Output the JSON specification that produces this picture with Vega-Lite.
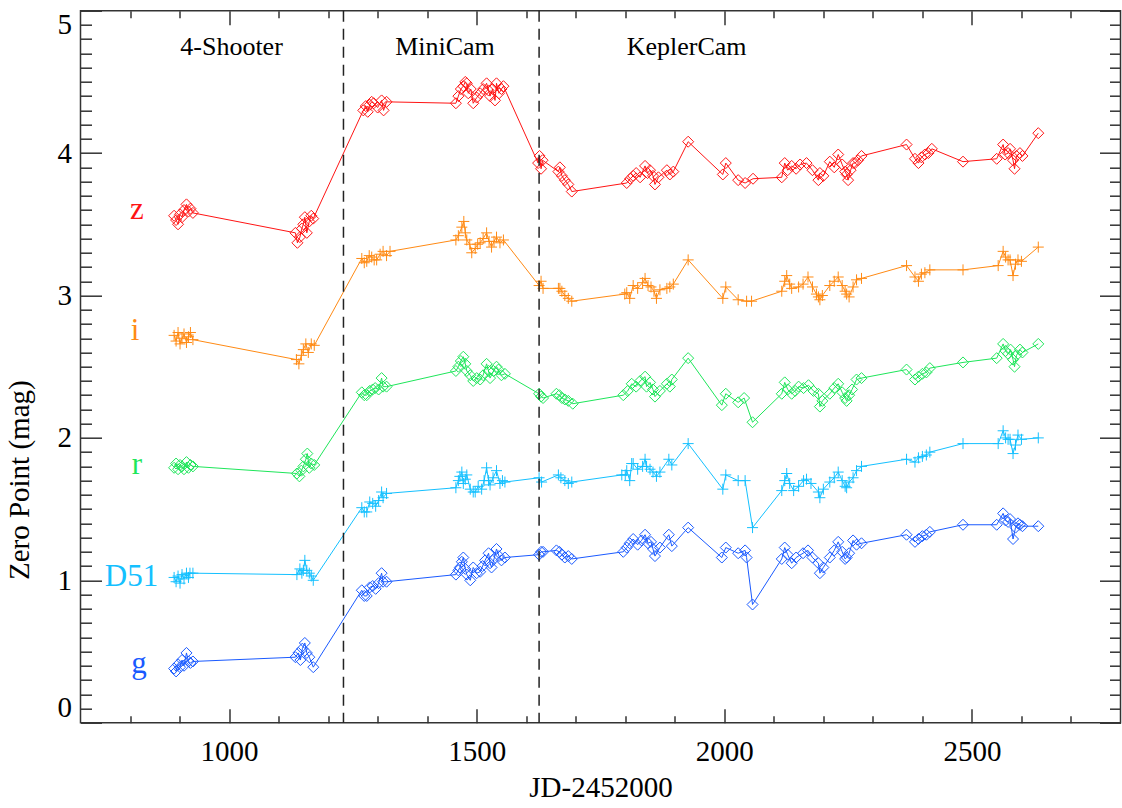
{
  "$schema": "https://vega.github.io/schema/vega-lite/v6.json",
  "width": 1040,
  "height": 712,
  "autosize": {"type": "none"},
  "padding": {"left": 80.5, "top": 10.7, "right": 1.5, "bottom": 85.3},
  "background": "white",
  "config": {
    "view": {"stroke": "#333333", "strokeWidth": 1.5},
    "axis": {
      "grid": false,
      "domain": false,
      "labelFont": "Liberation Serif",
      "labelFontSize": 29,
      "labelColor": "#000000",
      "titleFont": "Liberation Serif",
      "titleFontSize": 29,
      "titleFontWeight": "normal",
      "titleColor": "#000000",
      "tickColor": "#333333",
      "tickWidth": 1.5
    }
  },
  "datasets": {
    "pts": [
      {"s":"z","x":889,"y":3.56},{"s":"z","x":893,"y":3.53},{"s":"z","x":897,"y":3.50},{"s":"z","x":901,"y":3.57},{"s":"z","x":905,"y":3.55},{"s":"z","x":909,"y":3.60},{"s":"z","x":914,"y":3.64},{"s":"z","x":918,"y":3.59},{"s":"z","x":922,"y":3.61},{"s":"z","x":927,"y":3.58},
      {"s":"z","x":1134,"y":3.44},{"s":"z","x":1138,"y":3.37},{"s":"z","x":1143,"y":3.41},{"s":"z","x":1147,"y":3.47},{"s":"z","x":1150,"y":3.50},{"s":"z","x":1153,"y":3.55},{"s":"z","x":1157,"y":3.44},{"s":"z","x":1162,"y":3.52},{"s":"z","x":1166,"y":3.56},{"s":"z","x":1170,"y":3.54},
      {"s":"z","x":1271,"y":4.30},{"s":"z","x":1276,"y":4.33},{"s":"z","x":1280,"y":4.29},{"s":"z","x":1284,"y":4.34},{"s":"z","x":1288,"y":4.36},{"s":"z","x":1292,"y":4.35},{"s":"z","x":1300,"y":4.32},{"s":"z","x":1308,"y":4.37},{"s":"z","x":1312,"y":4.30},{"s":"z","x":1318,"y":4.36},
      {"s":"z","x":1458,"y":4.35},{"s":"z","x":1463,"y":4.40},{"s":"z","x":1468,"y":4.45},{"s":"z","x":1473,"y":4.47},{"s":"z","x":1477,"y":4.50},{"s":"z","x":1480,"y":4.49},{"s":"z","x":1483,"y":4.42},{"s":"z","x":1488,"y":4.45},{"s":"z","x":1493,"y":4.35},{"s":"z","x":1500,"y":4.39},{"s":"z","x":1507,"y":4.42},{"s":"z","x":1513,"y":4.45},{"s":"z","x":1520,"y":4.49},{"s":"z","x":1524,"y":4.44},{"s":"z","x":1527,"y":4.40},{"s":"z","x":1532,"y":4.45},{"s":"z","x":1537,"y":4.37},{"s":"z","x":1540,"y":4.49},{"s":"z","x":1545,"y":4.42},{"s":"z","x":1550,"y":4.45},{"s":"z","x":1554,"y":4.47},
      {"s":"z","x":1624,"y":3.93},{"s":"z","x":1627,"y":3.98},{"s":"z","x":1630,"y":3.89},{"s":"z","x":1633,"y":3.95},{"s":"z","x":1665,"y":3.87},{"s":"z","x":1668,"y":3.90},{"s":"z","x":1672,"y":3.84},{"s":"z","x":1678,"y":3.81},{"s":"z","x":1685,"y":3.78},{"s":"z","x":1692,"y":3.73},
      {"s":"z","x":1803,"y":3.79},{"s":"z","x":1810,"y":3.82},{"s":"z","x":1816,"y":3.84},{"s":"z","x":1822,"y":3.86},{"s":"z","x":1830,"y":3.83},{"s":"z","x":1840,"y":3.91},{"s":"z","x":1845,"y":3.86},{"s":"z","x":1850,"y":3.88},{"s":"z","x":1856,"y":3.84},{"s":"z","x":1860,"y":3.78},{"s":"z","x":1867,"y":3.83},{"s":"z","x":1884,"y":3.88},{"s":"z","x":1890,"y":3.85},{"s":"z","x":1897,"y":3.87},{"s":"z","x":1927,"y":4.08},
      {"s":"z","x":1997,"y":3.85},{"s":"z","x":2003,"y":3.93},{"s":"z","x":2028,"y":3.81},{"s":"z","x":2042,"y":3.79},{"s":"z","x":2058,"y":3.82},
      {"s":"z","x":2116,"y":3.83},{"s":"z","x":2122,"y":3.93},{"s":"z","x":2128,"y":3.88},{"s":"z","x":2136,"y":3.91},{"s":"z","x":2145,"y":3.89},{"s":"z","x":2153,"y":3.92},{"s":"z","x":2166,"y":3.93},{"s":"z","x":2178,"y":3.88},{"s":"z","x":2190,"y":3.81},{"s":"z","x":2193,"y":3.86},{"s":"z","x":2200,"y":3.84},{"s":"z","x":2213,"y":3.94},{"s":"z","x":2222,"y":3.90},{"s":"z","x":2230,"y":3.99},{"s":"z","x":2238,"y":3.92},{"s":"z","x":2244,"y":3.87},{"s":"z","x":2247,"y":3.85},{"s":"z","x":2250,"y":3.81},{"s":"z","x":2255,"y":3.88},{"s":"z","x":2260,"y":3.93},{"s":"z","x":2264,"y":3.93},{"s":"z","x":2270,"y":3.95},{"s":"z","x":2277,"y":3.98},
      {"s":"z","x":2368,"y":4.06},{"s":"z","x":2385,"y":3.96},{"s":"z","x":2392,"y":3.93},{"s":"z","x":2398,"y":3.97},{"s":"z","x":2405,"y":3.99},{"s":"z","x":2412,"y":4.00},{"s":"z","x":2419,"y":4.03},{"s":"z","x":2482,"y":3.94},
      {"s":"z","x":2550,"y":3.96},{"s":"z","x":2563,"y":4.06},{"s":"z","x":2567,"y":3.99},{"s":"z","x":2573,"y":4.00},{"s":"z","x":2577,"y":4.03},{"s":"z","x":2583,"y":3.95},{"s":"z","x":2586,"y":3.89},{"s":"z","x":2590,"y":3.98},{"s":"z","x":2597,"y":4.00},{"s":"z","x":2602,"y":3.98},{"s":"z","x":2634,"y":4.14},

      {"s":"i","x":889,"y":2.72},{"s":"i","x":893,"y":2.68},{"s":"i","x":897,"y":2.74},{"s":"i","x":901,"y":2.66},{"s":"i","x":905,"y":2.70},{"s":"i","x":909,"y":2.73},{"s":"i","x":914,"y":2.67},{"s":"i","x":918,"y":2.71},{"s":"i","x":922,"y":2.74},{"s":"i","x":927,"y":2.69},
      {"s":"i","x":1136,"y":2.55},{"s":"i","x":1141,"y":2.52},{"s":"i","x":1146,"y":2.58},{"s":"i","x":1150,"y":2.62},{"s":"i","x":1155,"y":2.66},{"s":"i","x":1160,"y":2.60},{"s":"i","x":1166,"y":2.66},{"s":"i","x":1172,"y":2.65},
      {"s":"i","x":1268,"y":3.26},{"s":"i","x":1273,"y":3.23},{"s":"i","x":1278,"y":3.24},{"s":"i","x":1283,"y":3.28},{"s":"i","x":1288,"y":3.27},{"s":"i","x":1293,"y":3.25},{"s":"i","x":1298,"y":3.25},{"s":"i","x":1305,"y":3.29},{"s":"i","x":1311,"y":3.31},{"s":"i","x":1318,"y":3.28},{"s":"i","x":1325,"y":3.31},
      {"s":"i","x":1458,"y":3.39},{"s":"i","x":1463,"y":3.42},{"s":"i","x":1470,"y":3.48},{"s":"i","x":1474,"y":3.52},{"s":"i","x":1477,"y":3.44},{"s":"i","x":1480,"y":3.39},{"s":"i","x":1486,"y":3.36},{"s":"i","x":1490,"y":3.30},{"s":"i","x":1497,"y":3.33},{"s":"i","x":1502,"y":3.36},{"s":"i","x":1507,"y":3.37},{"s":"i","x":1513,"y":3.40},{"s":"i","x":1520,"y":3.44},{"s":"i","x":1525,"y":3.38},{"s":"i","x":1530,"y":3.34},{"s":"i","x":1535,"y":3.38},{"s":"i","x":1540,"y":3.41},{"s":"i","x":1547,"y":3.37},{"s":"i","x":1554,"y":3.39},
      {"s":"i","x":1626,"y":3.07},{"s":"i","x":1630,"y":3.10},{"s":"i","x":1634,"y":3.05},{"s":"i","x":1665,"y":3.05},{"s":"i","x":1668,"y":3.05},{"s":"i","x":1672,"y":3.03},{"s":"i","x":1678,"y":3.00},{"s":"i","x":1685,"y":2.98},{"s":"i","x":1692,"y":2.96},
      {"s":"i","x":1799,"y":3.01},{"s":"i","x":1803,"y":3.02},{"s":"i","x":1809,"y":2.98},{"s":"i","x":1816,"y":3.07},{"s":"i","x":1825,"y":3.05},{"s":"i","x":1835,"y":3.09},{"s":"i","x":1840,"y":3.12},{"s":"i","x":1846,"y":3.07},{"s":"i","x":1852,"y":3.06},{"s":"i","x":1858,"y":3.03},{"s":"i","x":1863,"y":2.98},{"s":"i","x":1870,"y":3.04},{"s":"i","x":1884,"y":3.05},{"s":"i","x":1890,"y":3.06},{"s":"i","x":1897,"y":3.08},{"s":"i","x":1927,"y":3.25},
      {"s":"i","x":1997,"y":2.98},{"s":"i","x":2003,"y":3.06},{"s":"i","x":2028,"y":2.97},{"s":"i","x":2045,"y":2.96},{"s":"i","x":2055,"y":2.96},
      {"s":"i","x":2116,"y":3.03},{"s":"i","x":2122,"y":3.10},{"s":"i","x":2126,"y":3.14},{"s":"i","x":2132,"y":3.08},{"s":"i","x":2136,"y":3.05},{"s":"i","x":2150,"y":3.06},{"s":"i","x":2159,"y":3.08},{"s":"i","x":2169,"y":3.13},{"s":"i","x":2178,"y":3.06},{"s":"i","x":2186,"y":3.01},{"s":"i","x":2190,"y":2.99},{"s":"i","x":2193,"y":2.97},{"s":"i","x":2198,"y":3.00},{"s":"i","x":2213,"y":3.07},{"s":"i","x":2222,"y":3.10},{"s":"i","x":2230,"y":3.13},{"s":"i","x":2238,"y":3.07},{"s":"i","x":2244,"y":3.03},{"s":"i","x":2247,"y":3.01},{"s":"i","x":2252,"y":2.99},{"s":"i","x":2260,"y":3.06},{"s":"i","x":2267,"y":3.11},{"s":"i","x":2277,"y":3.12},
      {"s":"i","x":2368,"y":3.21},{"s":"i","x":2385,"y":3.13},{"s":"i","x":2392,"y":3.10},{"s":"i","x":2398,"y":3.15},{"s":"i","x":2405,"y":3.16},{"s":"i","x":2415,"y":3.18},{"s":"i","x":2482,"y":3.18},
      {"s":"i","x":2553,"y":3.21},{"s":"i","x":2563,"y":3.31},{"s":"i","x":2568,"y":3.27},{"s":"i","x":2573,"y":3.25},{"s":"i","x":2577,"y":3.25},{"s":"i","x":2583,"y":3.14},{"s":"i","x":2588,"y":3.22},{"s":"i","x":2593,"y":3.25},{"s":"i","x":2600,"y":3.24},{"s":"i","x":2634,"y":3.34},

      {"s":"r","x":889,"y":1.79},{"s":"r","x":893,"y":1.82},{"s":"r","x":897,"y":1.78},{"s":"r","x":901,"y":1.81},{"s":"r","x":905,"y":1.80},{"s":"r","x":909,"y":1.78},{"s":"r","x":914,"y":1.83},{"s":"r","x":918,"y":1.79},{"s":"r","x":922,"y":1.81},{"s":"r","x":927,"y":1.80},
      {"s":"r","x":1137,"y":1.75},{"s":"r","x":1142,"y":1.73},{"s":"r","x":1146,"y":1.77},{"s":"r","x":1150,"y":1.80},{"s":"r","x":1155,"y":1.85},{"s":"r","x":1158,"y":1.89},{"s":"r","x":1162,"y":1.79},{"s":"r","x":1166,"y":1.82},{"s":"r","x":1172,"y":1.81},
      {"s":"r","x":1268,"y":2.32},{"s":"r","x":1273,"y":2.30},{"s":"r","x":1278,"y":2.30},{"s":"r","x":1284,"y":2.33},{"s":"r","x":1290,"y":2.34},{"s":"r","x":1295,"y":2.35},{"s":"r","x":1302,"y":2.34},{"s":"r","x":1308,"y":2.42},{"s":"r","x":1311,"y":2.36},{"s":"r","x":1318,"y":2.36},
      {"s":"r","x":1458,"y":2.47},{"s":"r","x":1463,"y":2.50},{"s":"r","x":1468,"y":2.54},{"s":"r","x":1473,"y":2.57},{"s":"r","x":1477,"y":2.52},{"s":"r","x":1480,"y":2.47},{"s":"r","x":1487,"y":2.44},{"s":"r","x":1493,"y":2.40},{"s":"r","x":1500,"y":2.42},{"s":"r","x":1507,"y":2.41},{"s":"r","x":1513,"y":2.44},{"s":"r","x":1520,"y":2.52},{"s":"r","x":1524,"y":2.47},{"s":"r","x":1527,"y":2.42},{"s":"r","x":1534,"y":2.47},{"s":"r","x":1540,"y":2.50},{"s":"r","x":1544,"y":2.48},{"s":"r","x":1550,"y":2.44},{"s":"r","x":1557,"y":2.45},
      {"s":"r","x":1626,"y":2.31},{"s":"r","x":1630,"y":2.29},{"s":"r","x":1634,"y":2.28},{"s":"r","x":1661,"y":2.31},{"s":"r","x":1667,"y":2.30},{"s":"r","x":1672,"y":2.28},{"s":"r","x":1678,"y":2.27},{"s":"r","x":1685,"y":2.26},{"s":"r","x":1694,"y":2.24},
      {"s":"r","x":1796,"y":2.30},{"s":"r","x":1805,"y":2.33},{"s":"r","x":1813,"y":2.38},{"s":"r","x":1822,"y":2.36},{"s":"r","x":1830,"y":2.40},{"s":"r","x":1840,"y":2.43},{"s":"r","x":1843,"y":2.36},{"s":"r","x":1850,"y":2.39},{"s":"r","x":1856,"y":2.34},{"s":"r","x":1860,"y":2.29},{"s":"r","x":1870,"y":2.33},{"s":"r","x":1884,"y":2.38},{"s":"r","x":1890,"y":2.36},{"s":"r","x":1894,"y":2.41},{"s":"r","x":1927,"y":2.56},
      {"s":"r","x":1995,"y":2.23},{"s":"r","x":2003,"y":2.31},{"s":"r","x":2028,"y":2.25},{"s":"r","x":2040,"y":2.28},{"s":"r","x":2057,"y":2.11},
      {"s":"r","x":2116,"y":2.31},{"s":"r","x":2122,"y":2.39},{"s":"r","x":2128,"y":2.34},{"s":"r","x":2136,"y":2.31},{"s":"r","x":2143,"y":2.33},{"s":"r","x":2150,"y":2.36},{"s":"r","x":2160,"y":2.35},{"s":"r","x":2170,"y":2.37},{"s":"r","x":2180,"y":2.33},{"s":"r","x":2190,"y":2.31},{"s":"r","x":2193,"y":2.22},{"s":"r","x":2198,"y":2.26},{"s":"r","x":2213,"y":2.31},{"s":"r","x":2222,"y":2.35},{"s":"r","x":2230,"y":2.38},{"s":"r","x":2238,"y":2.32},{"s":"r","x":2244,"y":2.28},{"s":"r","x":2247,"y":2.26},{"s":"r","x":2252,"y":2.30},{"s":"r","x":2258,"y":2.34},{"s":"r","x":2267,"y":2.41},{"s":"r","x":2277,"y":2.42},
      {"s":"r","x":2368,"y":2.48},{"s":"r","x":2385,"y":2.41},{"s":"r","x":2392,"y":2.43},{"s":"r","x":2400,"y":2.45},{"s":"r","x":2408,"y":2.46},{"s":"r","x":2415,"y":2.49},{"s":"r","x":2482,"y":2.53},
      {"s":"r","x":2550,"y":2.56},{"s":"r","x":2563,"y":2.66},{"s":"r","x":2568,"y":2.61},{"s":"r","x":2573,"y":2.59},{"s":"r","x":2578,"y":2.62},{"s":"r","x":2583,"y":2.55},{"s":"r","x":2586,"y":2.50},{"s":"r","x":2590,"y":2.58},{"s":"r","x":2597,"y":2.62},{"s":"r","x":2602,"y":2.60},{"s":"r","x":2634,"y":2.66},

      {"s":"D51","x":889,"y":1.02},{"s":"D51","x":893,"y":0.99},{"s":"D51","x":897,"y":1.03},{"s":"D51","x":901,"y":0.98},{"s":"D51","x":905,"y":1.04},{"s":"D51","x":909,"y":1.01},{"s":"D51","x":914,"y":1.05},{"s":"D51","x":918,"y":1.02},{"s":"D51","x":921,"y":1.05},{"s":"D51","x":927,"y":1.05},
      {"s":"D51","x":1137,"y":1.04},{"s":"D51","x":1143,"y":1.08},{"s":"D51","x":1147,"y":1.05},{"s":"D51","x":1150,"y":1.07},{"s":"D51","x":1153,"y":1.14},{"s":"D51","x":1157,"y":1.07},{"s":"D51","x":1162,"y":1.05},{"s":"D51","x":1166,"y":1.03},{"s":"D51","x":1170,"y":1.00},
      {"s":"D51","x":1268,"y":1.51},{"s":"D51","x":1273,"y":1.48},{"s":"D51","x":1278,"y":1.48},{"s":"D51","x":1284,"y":1.55},{"s":"D51","x":1290,"y":1.54},{"s":"D51","x":1296,"y":1.52},{"s":"D51","x":1302,"y":1.56},{"s":"D51","x":1308,"y":1.62},{"s":"D51","x":1311,"y":1.58},{"s":"D51","x":1318,"y":1.61},
      {"s":"D51","x":1458,"y":1.65},{"s":"D51","x":1463,"y":1.70},{"s":"D51","x":1466,"y":1.73},{"s":"D51","x":1470,"y":1.76},{"s":"D51","x":1473,"y":1.68},{"s":"D51","x":1477,"y":1.71},{"s":"D51","x":1480,"y":1.74},{"s":"D51","x":1487,"y":1.64},{"s":"D51","x":1493,"y":1.62},{"s":"D51","x":1497,"y":1.62},{"s":"D51","x":1503,"y":1.66},{"s":"D51","x":1510,"y":1.64},{"s":"D51","x":1515,"y":1.70},{"s":"D51","x":1520,"y":1.79},{"s":"D51","x":1524,"y":1.70},{"s":"D51","x":1527,"y":1.67},{"s":"D51","x":1533,"y":1.72},{"s":"D51","x":1540,"y":1.77},{"s":"D51","x":1547,"y":1.68},{"s":"D51","x":1552,"y":1.70},{"s":"D51","x":1557,"y":1.69},
      {"s":"D51","x":1626,"y":1.72},{"s":"D51","x":1631,"y":1.69},{"s":"D51","x":1665,"y":1.74},{"s":"D51","x":1670,"y":1.72},{"s":"D51","x":1678,"y":1.70},{"s":"D51","x":1685,"y":1.68},{"s":"D51","x":1692,"y":1.69},
      {"s":"D51","x":1793,"y":1.74},{"s":"D51","x":1800,"y":1.74},{"s":"D51","x":1803,"y":1.77},{"s":"D51","x":1809,"y":1.70},{"s":"D51","x":1813,"y":1.82},{"s":"D51","x":1816,"y":1.82},{"s":"D51","x":1825,"y":1.78},{"s":"D51","x":1835,"y":1.80},{"s":"D51","x":1840,"y":1.85},{"s":"D51","x":1843,"y":1.80},{"s":"D51","x":1850,"y":1.78},{"s":"D51","x":1856,"y":1.76},{"s":"D51","x":1863,"y":1.73},{"s":"D51","x":1870,"y":1.76},{"s":"D51","x":1888,"y":1.85},{"s":"D51","x":1894,"y":1.81},{"s":"D51","x":1927,"y":1.96},
      {"s":"D51","x":1997,"y":1.64},{"s":"D51","x":2003,"y":1.74},{"s":"D51","x":2028,"y":1.70},{"s":"D51","x":2042,"y":1.70},{"s":"D51","x":2057,"y":1.37},
      {"s":"D51","x":2116,"y":1.63},{"s":"D51","x":2122,"y":1.70},{"s":"D51","x":2126,"y":1.75},{"s":"D51","x":2132,"y":1.68},{"s":"D51","x":2140,"y":1.63},{"s":"D51","x":2150,"y":1.66},{"s":"D51","x":2160,"y":1.70},{"s":"D51","x":2166,"y":1.71},{"s":"D51","x":2175,"y":1.68},{"s":"D51","x":2190,"y":1.62},{"s":"D51","x":2193,"y":1.58},{"s":"D51","x":2200,"y":1.64},{"s":"D51","x":2213,"y":1.69},{"s":"D51","x":2222,"y":1.72},{"s":"D51","x":2230,"y":1.76},{"s":"D51","x":2238,"y":1.70},{"s":"D51","x":2244,"y":1.66},{"s":"D51","x":2247,"y":1.65},{"s":"D51","x":2252,"y":1.69},{"s":"D51","x":2260,"y":1.72},{"s":"D51","x":2267,"y":1.77},{"s":"D51","x":2277,"y":1.80},
      {"s":"D51","x":2368,"y":1.85},{"s":"D51","x":2385,"y":1.83},{"s":"D51","x":2392,"y":1.86},{"s":"D51","x":2400,"y":1.87},{"s":"D51","x":2408,"y":1.88},{"s":"D51","x":2415,"y":1.90},{"s":"D51","x":2482,"y":1.96},
      {"s":"D51","x":2553,"y":1.96},{"s":"D51","x":2563,"y":2.05},{"s":"D51","x":2568,"y":2.00},{"s":"D51","x":2573,"y":1.99},{"s":"D51","x":2577,"y":1.99},{"s":"D51","x":2583,"y":1.89},{"s":"D51","x":2588,"y":1.95},{"s":"D51","x":2593,"y":2.02},{"s":"D51","x":2600,"y":1.99},{"s":"D51","x":2634,"y":2.00},

      {"s":"g","x":889,"y":0.38},{"s":"g","x":893,"y":0.36},{"s":"g","x":897,"y":0.41},{"s":"g","x":901,"y":0.39},{"s":"g","x":905,"y":0.44},{"s":"g","x":909,"y":0.40},{"s":"g","x":914,"y":0.49},{"s":"g","x":918,"y":0.43},{"s":"g","x":922,"y":0.42},{"s":"g","x":927,"y":0.43},
      {"s":"g","x":1134,"y":0.46},{"s":"g","x":1140,"y":0.49},{"s":"g","x":1144,"y":0.44},{"s":"g","x":1148,"y":0.52},{"s":"g","x":1153,"y":0.56},{"s":"g","x":1157,"y":0.49},{"s":"g","x":1162,"y":0.46},{"s":"g","x":1170,"y":0.39},
      {"s":"g","x":1268,"y":0.93},{"s":"g","x":1273,"y":0.89},{"s":"g","x":1278,"y":0.89},{"s":"g","x":1284,"y":0.95},{"s":"g","x":1290,"y":0.96},{"s":"g","x":1296,"y":0.94},{"s":"g","x":1302,"y":0.98},{"s":"g","x":1308,"y":1.05},{"s":"g","x":1311,"y":0.99},{"s":"g","x":1318,"y":0.99},
      {"s":"g","x":1458,"y":1.04},{"s":"g","x":1463,"y":1.07},{"s":"g","x":1466,"y":1.09},{"s":"g","x":1470,"y":1.13},{"s":"g","x":1473,"y":1.16},{"s":"g","x":1477,"y":1.08},{"s":"g","x":1480,"y":1.04},{"s":"g","x":1487,"y":1.00},{"s":"g","x":1493,"y":1.09},{"s":"g","x":1500,"y":1.05},{"s":"g","x":1507,"y":1.06},{"s":"g","x":1512,"y":1.10},{"s":"g","x":1517,"y":1.14},{"s":"g","x":1524,"y":1.19},{"s":"g","x":1527,"y":1.12},{"s":"g","x":1530,"y":1.09},{"s":"g","x":1535,"y":1.15},{"s":"g","x":1540,"y":1.22},{"s":"g","x":1545,"y":1.17},{"s":"g","x":1550,"y":1.14},{"s":"g","x":1557,"y":1.16},
      {"s":"g","x":1626,"y":1.18},{"s":"g","x":1630,"y":1.20},{"s":"g","x":1634,"y":1.20},{"s":"g","x":1661,"y":1.21},{"s":"g","x":1667,"y":1.20},{"s":"g","x":1672,"y":1.18},{"s":"g","x":1678,"y":1.16},{"s":"g","x":1685,"y":1.17},{"s":"g","x":1692,"y":1.15},
      {"s":"g","x":1796,"y":1.20},{"s":"g","x":1803,"y":1.23},{"s":"g","x":1809,"y":1.26},{"s":"g","x":1816,"y":1.29},{"s":"g","x":1825,"y":1.25},{"s":"g","x":1833,"y":1.28},{"s":"g","x":1840,"y":1.32},{"s":"g","x":1846,"y":1.26},{"s":"g","x":1852,"y":1.27},{"s":"g","x":1856,"y":1.22},{"s":"g","x":1860,"y":1.17},{"s":"g","x":1870,"y":1.23},{"s":"g","x":1888,"y":1.32},{"s":"g","x":1894,"y":1.24},{"s":"g","x":1927,"y":1.37},
      {"s":"g","x":1995,"y":1.16},{"s":"g","x":2003,"y":1.23},{"s":"g","x":2028,"y":1.19},{"s":"g","x":2042,"y":1.21},{"s":"g","x":2045,"y":1.16},{"s":"g","x":2057,"y":0.83},
      {"s":"g","x":2116,"y":1.15},{"s":"g","x":2122,"y":1.23},{"s":"g","x":2128,"y":1.18},{"s":"g","x":2136,"y":1.12},{"s":"g","x":2145,"y":1.16},{"s":"g","x":2159,"y":1.19},{"s":"g","x":2169,"y":1.21},{"s":"g","x":2178,"y":1.16},{"s":"g","x":2190,"y":1.12},{"s":"g","x":2193,"y":1.05},{"s":"g","x":2200,"y":1.09},{"s":"g","x":2213,"y":1.16},{"s":"g","x":2222,"y":1.21},{"s":"g","x":2230,"y":1.27},{"s":"g","x":2238,"y":1.20},{"s":"g","x":2244,"y":1.15},{"s":"g","x":2247,"y":1.16},{"s":"g","x":2252,"y":1.19},{"s":"g","x":2260,"y":1.28},{"s":"g","x":2267,"y":1.25},{"s":"g","x":2277,"y":1.26},
      {"s":"g","x":2368,"y":1.32},{"s":"g","x":2385,"y":1.27},{"s":"g","x":2392,"y":1.29},{"s":"g","x":2400,"y":1.31},{"s":"g","x":2408,"y":1.32},{"s":"g","x":2415,"y":1.34},{"s":"g","x":2482,"y":1.39},
      {"s":"g","x":2550,"y":1.39},{"s":"g","x":2563,"y":1.47},{"s":"g","x":2568,"y":1.42},{"s":"g","x":2573,"y":1.41},{"s":"g","x":2577,"y":1.43},{"s":"g","x":2583,"y":1.29},{"s":"g","x":2588,"y":1.37},{"s":"g","x":2593,"y":1.40},{"s":"g","x":2597,"y":1.39},{"s":"g","x":2602,"y":1.38},{"s":"g","x":2634,"y":1.38}
    ],
    "switches": [{"jd": 1231}, {"jd": 1626}],
    "cameras": [
      {"cam": "4-Shooter", "x": 1005, "y": 4.69},
      {"cam": "MiniCam", "x": 1436, "y": 4.69},
      {"cam": "KeplerCam", "x": 1924, "y": 4.69}
    ],
    "bands": [
      {"s": "z", "x": 814, "y": 3.54},
      {"s": "i", "x": 810, "y": 2.69},
      {"s": "r", "x": 814, "y": 1.745},
      {"s": "D51", "x": 803, "y": 0.96},
      {"s": "g", "x": 818, "y": 0.35}
    ]
  },
  "resolve": {"axis": {"x": "independent", "y": "independent"}},
  "layer": [
    {
      "data": {"name": "pts"},
      "mark": {"type": "line", "strokeWidth": 1},
      "encoding": {
        "x": {"field": "x", "type": "quantitative",
              "scale": {"domain": [700, 2800], "nice": false, "zero": false},
              "axis": {"orient": "bottom", "values": [1000, 1500, 2000, 2500], "format": "d", "tickSize": -14, "labelPadding": 29,
                       "labelFlush": false, "title": "JD-2452000", "titleY": 74, "titleBaseline": "alphabetic"}},
        "y": {"field": "y", "type": "quantitative",
              "scale": {"domain": [0, 5], "nice": false, "zero": false},
              "axis": {"orient": "left", "values": [0, 1, 2, 3, 4, 5], "format": "d", "tickSize": -21, "labelPadding": 30,
                       "labelFlush": true, "title": "Zero Point (mag)", "titleX": -61, "titleY": 469,
                       "titleAngle": 270, "titleBaseline": "middle"}},
        "color": {"field": "s", "type": "nominal", "legend": null,
                  "scale": {"domain": ["z", "i", "r", "D51", "g"],
                            "range": ["#ff1414", "#ff8a14", "#1ee65a", "#14c0ff", "#1a5aff"]}},
        "detail": {"field": "s"}
      }
    },
    {
      "data": {"name": "pts"},
      "mark": {"type": "point", "filled": false, "strokeWidth": 1, "size": 121, "opacity": 1},
      "encoding": {
        "x": {"field": "x", "type": "quantitative",
              "scale": {"domain": [700, 2800], "nice": false, "zero": false},
              "axis": {"orient": "bottom", "values": [800, 900, 1100, 1200, 1300, 1400, 1600, 1700, 1800, 1900, 2100, 2200, 2300, 2400, 2600, 2700],
                       "tickSize": -7, "labels": false, "title": null}},
        "y": {"field": "y", "type": "quantitative",
              "scale": {"domain": [0, 5], "nice": false, "zero": false},
              "axis": {"orient": "left", "values": [0.1,0.2,0.3,0.4,0.5,0.6,0.7,0.8,0.9,1.1,1.2,1.3,1.4,1.5,1.6,1.7,1.8,1.9,2.1,2.2,2.3,2.4,2.5,2.6,2.7,2.8,2.9,3.1,3.2,3.3,3.4,3.5,3.6,3.7,3.8,3.9,4.1,4.2,4.3,4.4,4.5,4.6,4.7,4.8,4.9],
                       "tickSize": -11, "labels": false, "title": null}},
        "color": {"field": "s", "type": "nominal", "legend": null},
        "shape": {"field": "s", "type": "nominal", "legend": null,
                  "scale": {"domain": ["z", "i", "r", "D51", "g"],
                            "range": ["diamond", "M-1,0L1,0M0,-1L0,1", "diamond", "M-1,0L1,0M0,-1L0,1", "diamond"]}}
      }
    },
    {
      "data": {"name": "switches"},
      "mark": {"type": "rule", "color": "#222222", "strokeWidth": 1.5, "strokeDash": [11, 7]},
      "encoding": {
        "x": {"field": "jd", "type": "quantitative",
              "scale": {"domain": [700, 2800], "nice": false, "zero": false},
              "axis": {"orient": "top", "values": [1000, 1500, 2000, 2500], "tickSize": -14, "labels": false, "title": null}}
      }
    },
    {
      "data": {"name": "cameras"},
      "mark": {"type": "text", "font": "Liberation Serif", "fontSize": 26, "color": "#000000", "align": "center", "baseline": "alphabetic"},
      "encoding": {
        "x": {"field": "x", "type": "quantitative",
              "scale": {"domain": [700, 2800], "nice": false, "zero": false},
              "axis": {"orient": "top", "values": [800, 900, 1100, 1200, 1300, 1400, 1600, 1700, 1800, 1900, 2100, 2200, 2300, 2400, 2600, 2700],
                       "tickSize": -7, "labels": false, "title": null}},
        "y": {"field": "y", "type": "quantitative",
              "scale": {"domain": [0, 5], "nice": false, "zero": false},
              "axis": {"orient": "right", "values": [0, 1, 2, 3, 4, 5], "tickSize": -21, "labels": false, "title": null}},
        "text": {"field": "cam"}
      }
    },
    {
      "data": {"name": "bands"},
      "mark": {"type": "text", "font": "Liberation Serif", "fontSize": 31, "align": "center", "baseline": "alphabetic"},
      "encoding": {
        "x": {"field": "x", "type": "quantitative",
              "scale": {"domain": [700, 2800], "nice": false, "zero": false}, "axis": null},
        "y": {"field": "y", "type": "quantitative",
              "scale": {"domain": [0, 5], "nice": false, "zero": false},
              "axis": {"orient": "right", "values": [0.1,0.2,0.3,0.4,0.5,0.6,0.7,0.8,0.9,1.1,1.2,1.3,1.4,1.5,1.6,1.7,1.8,1.9,2.1,2.2,2.3,2.4,2.5,2.6,2.7,2.8,2.9,3.1,3.2,3.3,3.4,3.5,3.6,3.7,3.8,3.9,4.1,4.2,4.3,4.4,4.5,4.6,4.7,4.8,4.9],
                       "tickSize": -11, "labels": false, "title": null}},
        "color": {"field": "s", "type": "nominal", "legend": null},
        "text": {"field": "s"}
      }
    }
  ]
}
